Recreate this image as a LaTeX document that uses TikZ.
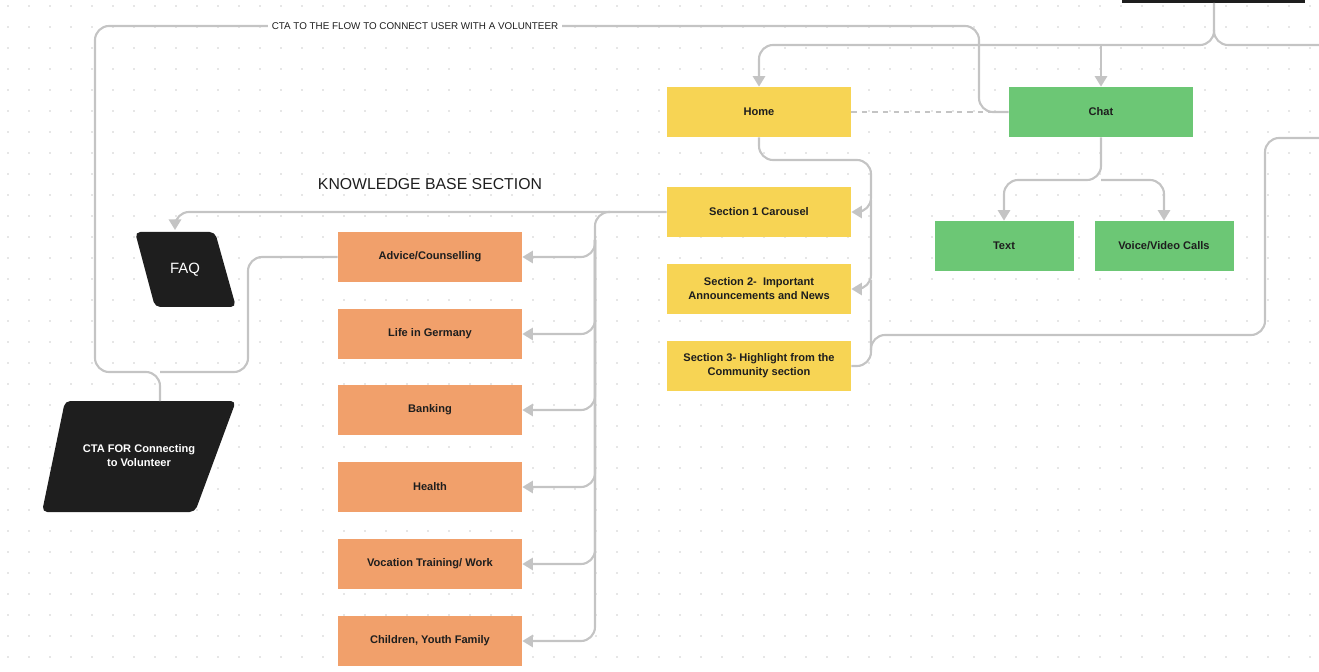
\documentclass[tikz,border=0pt]{standalone}
\usepackage{fontspec}
\setmainfont{Liberation Sans}
\usetikzlibrary{arrows.meta}
\definecolor{homeyel}{HTML}{F7D454}
\definecolor{chatgrn}{HTML}{6CC775}
\definecolor{kborg}{HTML}{F1A06B}
\definecolor{ink}{HTML}{1E1E1E}
\definecolor{wire}{HTML}{C4C4C4}
\tikzset{
  box/.style={draw=none, minimum width=184*0.02cm, minimum height=50*0.02cm, align=center, font=\fontsize{6.3}{8}\selectfont\bfseries, text=ink},
  yel/.style={box, fill=homeyel},
  grn/.style={box, fill=chatgrn, minimum width=139*0.02cm},
  org/.style={box, fill=kborg},
  wire/.style={draw=wire, line width=1.2pt, rounded corners=8pt},
  tip/.style={wire, -{Triangle[length=6pt,width=7pt]}},
  tipin/.style={wire, {Triangle[length=6pt,width=7pt]}-}
}
\begin{document}
\begin{tikzpicture}[x=0.02cm,y=-0.02cm]
  \useasboundingbox (0,0) rectangle (1319,672);
  % dotted background
  \foreach \i in {0,...,62} \foreach \j in {0,...,32}
    \fill[gray!40] (\i*21+8,\j*21+6) circle (0.5pt);
  \fill[ink] (1122,-10) rectangle (1305,3);
  \coordinate (top) at (1214,3);

  \node[yel] (home) at (759,112) {Home};
  \node[grn, minimum width=184*0.02cm] (chat) at (1101,112) {Chat};
  \node[yel] (sec1) at (759,212) {Section 1 Carousel};
  \node[yel] (sec2) at (759,289) {Section 2-\ \ Important\\Announcements and News};
  \node[yel] (sec3) at (759,366) {Section 3- Highlight from the\\Community section};
  \node[grn] (text) at (1004,246) {Text};
  \node[grn] (voice) at (1164,246) {Voice/Video Calls};

  \node[org] (advice) at (430,257) {Advice/Counselling};
  \node[org] (life) at (430,334) {Life in Germany};
  \node[org] (bank) at (430,410) {Banking};
  \node[org] (health) at (430,487) {Health};
  \node[org] (voc) at (430,564) {Vocation Training/ Work};
  \node[org] (kids) at (430,641) {Children, Youth Family};

  % black parallelograms
  \fill[ink, rounded corners=3pt] (135,232) -- (215,232) -- (236,307) -- (155,307) -- cycle;
  \node[text=white, font=\fontsize{8.5}{10}\selectfont] (faq) at (185,270) {FAQ};
  \coordinate (faqtop) at (175,230);
  \fill[ink, rounded corners=3pt] (65,401) -- (236,401) -- (195,512) -- (42,512) -- cycle;
  \node[text=white, align=center, font=\fontsize{6.3}{8}\selectfont\bfseries] (conn) at (139,456) {CTA FOR Connecting\\to Volunteer};
  \coordinate (conntop) at (160,401);

  \node[font=\fontsize{9}{10}\selectfont, text=ink] (kbs) at (430,184) {KNOWLEDGE BASE SECTION};

  % top links
  \draw[tipin] (home.north) -- (759,45) -- (1214,45) -- (top);
  \draw[tipin] (chat.north) -- (1101,45);
  \draw[wire] (1214,30) -- (1214,45) -- (1319,45);
  \draw[draw=wire, line width=1pt, dashed] (home) -- (chat);

  % chat to volunteer CTA
  \draw[wire] (chat.west) -- (979,112) -- (979,26) -- (95,26) -- (95,372) -- (160,372) -- (conntop);
  \node[fill=white, inner sep=2pt, font=\fontsize{5.6}{7}\selectfont, text=ink] (ctaflow) at (415,26) {CTA TO THE FLOW TO CONNECT USER WITH A VOLUNTEER};
  \draw[wire] (advice.west) -- (248,257) -- (248,372) -- (160,372);

  % chat options
  \draw[tip] (chat.south) -- (1101,180) -- (1004,180) -- (text.north);
  \draw[tipin] (voice.north) -- (1164,180) -- (1101,180);

  % home sections
  \draw[tip] (home.south) -- (759,160) -- (871,160) -- (871,212) -- (sec1.east);
  \draw[tip] (871,200) -- (871,289) -- (sec2.east);
  \draw[wire] (871,280) -- (871,366) -- (sec3.east);
  \draw[wire] (871,350) -- (871,335) -- (1265,335) -- (1265,138) -- (1319,138);

  % knowledge base
  \draw[tip] (sec1.west) -- (175,212) -- (faqtop);
  \draw[tip] (610,212) -- (595,212) -- (595,257) -- (advice.east);
  \foreach \n/\y in {life/334,bank/410,health/487,voc/564,kids/641}
    \draw[tip] (595,240) -- (595,\y) -- (\n.east);
\end{tikzpicture}
\end{document}
